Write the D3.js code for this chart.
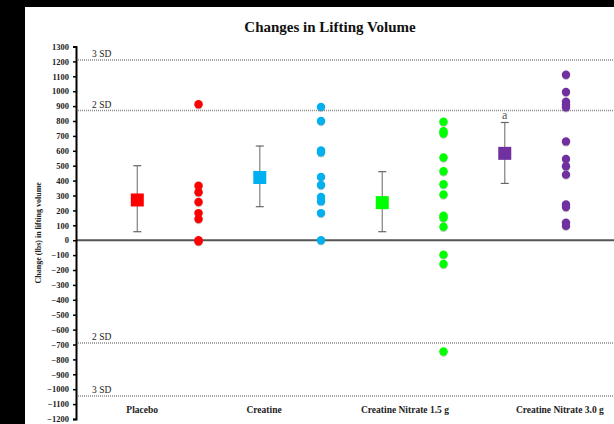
<!DOCTYPE html>
<html>
<head>
<meta charset="utf-8">
<script src="https://cdn.jsdelivr.net/npm/d3@7/dist/d3.min.js"></script>
<style>
  html, body { margin: 0; padding: 0; background: #000; }
  svg { display: block; }
</style>
</head>
<body>
<svg id="chart" width="614" height="424"></svg>
<script>
// ---------- data ----------
const categories = ["Placebo", "Creatine", "Creatine Nitrate 1.5 g", "Creatine Nitrate 3.0 g"];
const colors = ["#ff0000", "#00b0f0", "#00ff00", "#7030a0"];
const means = [270, 421, 252, 583];
const errUpper = [500, 632, 460, 790];
const errLower = [57, 225, 57, 381];
const placeboValues = [912, 365, 322, 256, 182, 142, 0, -8];
const creatineValues = [895, 800, 603, 590, 425, 370, 290, 262, 182, 0];
const cn15Values = [795, 732, 716, 555, 463, 376, 307, 165, 150, 90, -97, -160, -747];
const cn30Values = [1110, 995, 930, 910, 892, 663, 545, 496, 440, 240, 222, 118, 96];
const sdLabels = ["3 SD", "2 SD", "2 SD", "3 SD"];
const sdValues = [1210, 870, -690, -1045];
const yTickValues = d3.range(-1200, 1301, 100);
const significance = ["", "", "", "a"];

const groupValues = [placeboValues, creatineValues, cn15Values, cn30Values];

// ---------- layout ----------
const W = 614, H = 424;
const svg = d3.select("#chart");
const serif = "'Liberation Serif', 'Times New Roman', serif";

svg.append("rect").attr("x", 0).attr("y", 0).attr("width", W).attr("height", H).attr("fill", "#000");
svg.append("rect").attr("x", 25).attr("y", 7).attr("width", W - 25).attr("height", H - 7).attr("fill", "#fff");

const axisX = 76;
const y = d3.scaleLinear().domain([-1200, 1300]).range([419, 46.5]);
const x = d3.scaleLinear().domain([0, 7]).range([137.3, 566]);
const labelSlot = [0.08, 2.07, 4.37, 6.9];

// title
svg.append("text")
  .attr("x", 330).attr("y", 32)
  .attr("text-anchor", "middle")
  .attr("font-family", serif).attr("font-weight", "bold").attr("font-size", 15)
  .attr("fill", "#111")
  .text("Changes in Lifting Volume");

// SD reference lines
svg.append("g").selectAll("line").data(sdValues).join("line")
  .attr("x1", axisX).attr("x2", W)
  .attr("y1", d => y(d)).attr("y2", d => y(d))
  .attr("stroke", "#8c8c8c").attr("stroke-width", 1.5)
  .attr("stroke-dasharray", "1,1");
svg.append("g").selectAll("text").data(sdValues).join("text")
  .attr("x", 92).attr("y", d => y(d) - 3)
  .attr("font-family", serif).attr("font-size", 9.5)
  .attr("fill", "#222")
  .text((d, i) => sdLabels[i]);

// zero line
svg.append("line")
  .attr("x1", axisX).attr("x2", W)
  .attr("y1", y(0)).attr("y2", y(0))
  .attr("stroke", "#555").attr("stroke-width", 2);

// y axis
const yAxis = d3.axisLeft(y).tickValues(yTickValues).tickSize(3).tickPadding(4).tickFormat(d3.format("d"));
const gy = svg.append("g").attr("transform", `translate(${axisX},0)`).call(yAxis);
gy.select(".domain").attr("stroke", "#000").attr("stroke-width", 2);
gy.selectAll(".tick line").attr("stroke", "#000").attr("stroke-width", 1.5);
gy.selectAll(".tick text")
  .attr("font-family", serif).attr("font-size", 8.5).attr("font-weight", "bold")
  .attr("fill", "#222");

// y axis title
svg.append("text")
  .attr("transform", `translate(41,${y(50)}) rotate(-90)`)
  .attr("text-anchor", "middle")
  .attr("font-family", serif).attr("font-weight", "bold").attr("font-size", 8)
  .attr("fill", "#222")
  .text("Change (lbs) in lifting volume");

// category labels
svg.append("g").selectAll("text").data(categories).join("text")
  .attr("x", (d, i) => x(labelSlot[i]))
  .attr("y", 413)
  .attr("text-anchor", "middle")
  .attr("font-family", serif).attr("font-weight", "bold").attr("font-size", 9.5)
  .attr("fill", "#222")
  .text(d => d);

// error bars + means
const groups = categories.map((c, i) => ({ i, mean: means[i], hi: errUpper[i], lo: errLower[i] }));
const eb = svg.append("g");
eb.selectAll("line.v").data(groups).join("line").attr("class", "v")
  .attr("x1", d => x(2 * d.i)).attr("x2", d => x(2 * d.i))
  .attr("y1", d => y(d.hi)).attr("y2", d => y(d.lo))
  .attr("stroke", "#8a8a8a").attr("stroke-width", 1.3);
["hi", "lo"].forEach(k => {
  eb.selectAll("line." + k).data(groups).join("line").attr("class", k)
    .attr("x1", d => x(2 * d.i) - 4).attr("x2", d => x(2 * d.i) + 4)
    .attr("y1", d => y(d[k])).attr("y2", d => y(d[k]))
    .attr("stroke", "#666").attr("stroke-width", 1.2);
});
eb.selectAll("rect").data(groups).join("rect")
  .attr("x", d => x(2 * d.i) - 6.5).attr("y", d => y(d.mean) - 6.5)
  .attr("width", 13).attr("height", 13)
  .attr("fill", d => colors[d.i]);
eb.selectAll("text").data(groups.filter(d => significance[d.i])).join("text")
  .attr("x", d => x(2 * d.i)).attr("y", d => y(d.hi) - 3)
  .attr("text-anchor", "middle")
  .attr("font-family", serif).attr("font-size", 12)
  .attr("fill", "#555")
  .text(d => significance[d.i]);

// individual points
const pts = [];
groupValues.forEach((vals, i) => vals.forEach(v => pts.push({ i, v })));
const pg = svg.append("g");
pg.selectAll("circle.sh").data(pts).join("circle").attr("class", "sh")
  .attr("cx", d => x(2 * d.i + 1)).attr("cy", d => y(d.v) + 1)
  .attr("r", 4.2).attr("fill", "#444").attr("opacity", 0.3);
pg.selectAll("circle.pt").data(pts).join("circle").attr("class", "pt")
  .attr("cx", d => x(2 * d.i + 1)).attr("cy", d => y(d.v))
  .attr("r", 4.2).attr("fill", d => colors[d.i]);
</script>
</body>
</html>
